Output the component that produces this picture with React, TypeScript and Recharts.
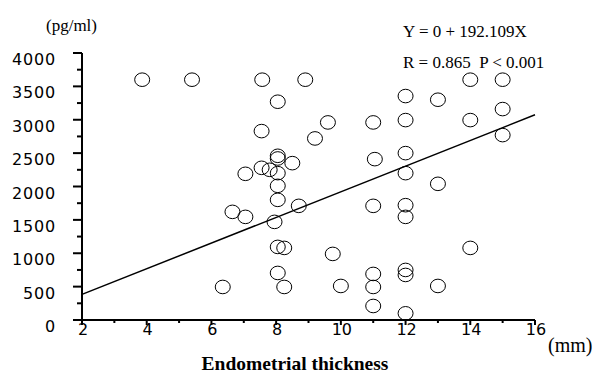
import {
  ScatterChart,
  Scatter,
  XAxis,
  YAxis,
  ReferenceLine,
  Customized,
} from "recharts";

// endometrial thickness (mm) for each patient
const thickness = [
  3.86, 5.4, 7.57, 8.9, 14.0, 15.0, 8.05, 7.55, 9.2, 8.05, 8.05, 8.5, 7.05,
  7.55, 7.8, 8.05, 8.05, 8.05, 6.65, 7.05, 7.95, 8.7, 8.05, 8.25, 9.75, 8.05,
  6.35, 8.25, 10.0, 12.0, 13.0, 9.6, 11.0, 12.0, 14.0, 15.0, 15.0, 11.05, 12.0,
  12.0, 13.0, 11.0, 12.0, 12.0, 14.0, 11.0, 11.0, 11.0, 12.0, 12.0, 12.0, 13.0,
];

// serum level (pg/ml) for each patient
const level = [
  3600, 3600, 3600, 3600, 3600, 3600, 3270, 2830, 2720, 2460, 2420, 2350, 2190,
  2280, 2250, 2200, 2010, 1800, 1620, 1545, 1470, 1710, 1095, 1080, 990, 705,
  495, 495, 510, 3355, 3300, 2960, 2960, 2995, 2995, 3160, 2770, 2410, 2500,
  2200, 2040, 1710, 1720, 1545, 1080, 690, 495, 210, 750, 675, 100, 510,
];

// regression line end points
const fitX = [2, 16];
const fitY = [384, 3074];

const xTicks = [2, 3, 4, 5, 6, 7, 8, 9, 10, 11, 12, 13, 14, 15, 16];
const yTicks = [
  0, 250, 500, 750, 1000, 1250, 1500, 1750, 2000, 2250, 2500, 2750, 3000, 3250,
  3500, 3750, 4000,
];

const points = thickness.map((x, i) => ({ x, y: level[i] }));

const tickFont = "'DejaVu Sans', sans-serif";
const serif = "'Liberation Serif', 'Times New Roman', serif";

function XTick({ x, y, payload }: any) {
  const major = payload.value % 2 === 0;
  return (
    <g>
      <line x1={x} x2={x} y1={y} y2={y + (major ? 5 : 3)} stroke="#000" strokeWidth={2} />
      {major && (
        <text x={x + 1} y={y + 15} textAnchor="middle" fontSize={16} fontFamily={tickFont} fill="#000">
          {payload.value}
        </text>
      )}
    </g>
  );
}

function YTick({ x, y, payload }: any) {
  const major = payload.value % 500 === 0;
  return (
    <g>
      <line x1={x - (major ? 9 : 5)} x2={x} y1={y} y2={y} stroke="#000" strokeWidth={2} />
      {major && (
        <text
          x={x - 26}
          y={y + 12}
          textAnchor="end"
          fontSize={16}
          letterSpacing={0.8}
          fontFamily={tickFont}
          fill="#000"
        >
          {payload.value}
        </text>
      )}
    </g>
  );
}

function Ring({ cx, cy }: any) {
  return <ellipse cx={cx} cy={cy} rx={7.5} ry={6.8} fill="none" stroke="#000" strokeWidth={1} />;
}

function Notes() {
  return (
    <g fontFamily={serif} fill="#000">
      <text x={46} y={31} fontSize={17}>(pg/ml)</text>
      <text x={403} y={37} fontSize={17}>Y = 0 + 192.109X</text>
      <text x={403} y={68} fontSize={17} xmlSpace="preserve">R = 0.865  P &lt; 0.001</text>
      <text x={548} y={352} fontSize={20}>(mm)</text>
      <text x={295} y={370} fontSize={19.5} fontWeight="bold" textAnchor="middle">
        Endometrial thickness
      </text>
    </g>
  );
}

export default function App() {
  return (
    <div style={{ position: "absolute", left: 0, top: 0, background: "#fff" }}>
      <ScatterChart
        width={597}
        height={376}
        margin={{ top: 53, right: 62, left: 22, bottom: 26 }}
      >
        <XAxis
          type="number"
          dataKey="x"
          domain={[2, 16]}
          ticks={xTicks}
          interval={0}
          tickSize={0}
          tickMargin={0}
          tickLine={false}
          tick={<XTick />}
          axisLine={{ stroke: "#000", strokeWidth: 2 }}
          height={30}
          allowDataOverflow
        />
        <YAxis
          type="number"
          dataKey="y"
          domain={[0, 4000]}
          ticks={yTicks}
          interval={0}
          tickSize={0}
          tickMargin={0}
          tickLine={false}
          tick={<YTick />}
          axisLine={{ stroke: "#000", strokeWidth: 2 }}
          width={60}
          allowDataOverflow
        />
        <ReferenceLine
          segment={[
            { x: fitX[0], y: fitY[0] },
            { x: fitX[1], y: fitY[1] },
          ]}
          stroke="#000"
          strokeWidth={1.5}
        />
        <Scatter data={points} shape={<Ring />} isAnimationActive={false} />
        <Customized component={<Notes />} />
      </ScatterChart>
    </div>
  );
}
